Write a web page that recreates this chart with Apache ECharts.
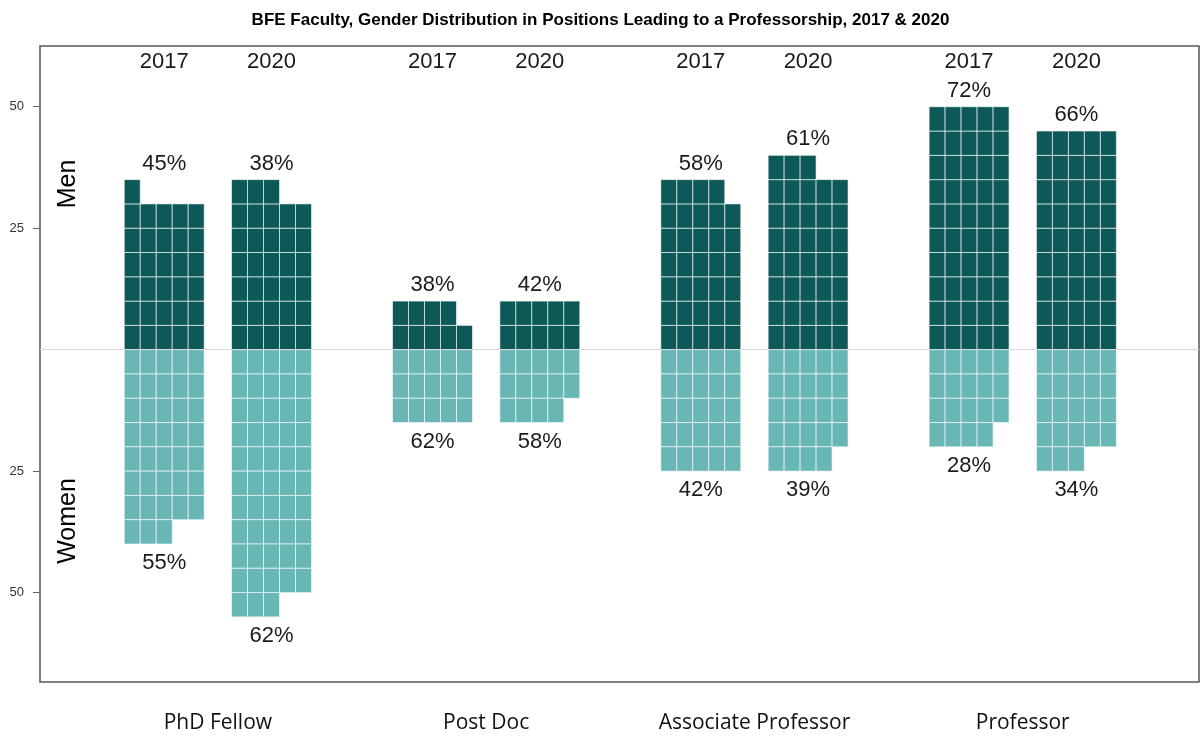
<!DOCTYPE html>
<html>
<head>
<meta charset="utf-8">
<title>BFE Faculty, Gender Distribution</title>
<script src="https://cdn.jsdelivr.net/npm/echarts@6.0.0/dist/echarts.min.js"></script>
<style>
    html, body { margin: 0; padding: 0; background: #fff; }
    #chart { width: 1201px; height: 736px; }
</style>
</head>
<body>
<div id="chart"></div>
<script>
// 职位分组
var positions = ['PhD Fellow', 'Post Doc', 'Associate Professor', 'Professor'];
var years = ['2017', '2020'];

// 人数, 一格一人 (顺序: PhD 2017, PhD 2020, Post Doc 2017, ...)
var menCounts = [31, 33, 9, 10, 34, 38, 50, 45];
var womenCounts = [38, 53, 15, 14, 25, 24, 19, 23];

// 百分比标签
var menPct = ['45%', '38%', '38%', '42%', '58%', '61%', '72%', '66%'];
var womenPct = ['55%', '62%', '62%', '58%', '42%', '39%', '28%', '34%'];

// y轴刻度
var yTicks = [-50, -25, 25, 50];

(function () {
    var PER_ROW = 5;          // 每行格数
    var CELL_W = 0.298;       // 每格宽度 (x轴单位)
    var MEN_COLOR = '#0d5957';
    var WOMEN_COLOR = '#68b7b5';
    var FONT = '"Liberation Sans", Arial, Helvetica, sans-serif';

    //列中心位置
    function colCenter(i) {
        return Math.floor(i / 2) * 5 + (i % 2) * 2;
    }

    //生成格子数据
    function buildCells() {
        var data = [];
        for (var i = 0; i < menCounts.length; i++) {
            var cx = colCenter(i);
            for (var k = 0; k < menCounts[i]; k++) {
                data.push([cx, Math.floor(k / PER_ROW), k % PER_ROW, 1]);
            }
            for (k = 0; k < womenCounts[i]; k++) {
                data.push([cx, Math.floor(k / PER_ROW), k % PER_ROW, -1]);
            }
        }
        return data;
    }

    //百分比标签数据
    var labelTexts = [];
    function buildLabels() {
        var data = [];
        for (var i = 0; i < menCounts.length; i++) {
            var cx = colCenter(i);
            data.push([cx, Math.ceil(menCounts[i] / PER_ROW) * PER_ROW, 1]);
            labelTexts.push(menPct[i]);
            data.push([cx, -Math.ceil(womenCounts[i] / PER_ROW) * PER_ROW, -1]);
            labelTexts.push(womenPct[i]);
        }
        return data;
    }

    function renderCell(params, api) {
        var cx = api.value(0), row = api.value(1), col = api.value(2), sign = api.value(3);
        var x0 = cx - CELL_W * PER_ROW / 2 + col * CELL_W;
        var pA = api.coord([x0, sign * row * PER_ROW]);
        var pB = api.coord([x0 + CELL_W, sign * (row + 1) * PER_ROW]);
        return {
            type: 'rect',
            shape: {
                x: Math.min(pA[0], pB[0]),
                y: Math.min(pA[1], pB[1]),
                width: Math.abs(pB[0] - pA[0]),
                height: Math.abs(pB[1] - pA[1])
            },
            style: {
                fill: sign > 0 ? MEN_COLOR : WOMEN_COLOR,
                stroke: 'rgba(255,255,255,0.6)',
                lineWidth: 1
            }
        };
    }

    function renderLabel(params, api) {
        var sign = api.value(2);
        var p = api.coord([api.value(0), api.value(1)]);
        return {
            type: 'text',
            x: p[0],
            y: p[1] + (sign > 0 ? -16 : 19),
            style: {
                text: labelTexts[params.dataIndex],
                fill: '#1a1a1a',
                font: '22px ' + FONT,
                align: 'center',
                verticalAlign: 'middle'
            }
        };
    }

    var yearTicks = [], groupTicks = [];
    for (var i = 0; i < menCounts.length; i++) {
        yearTicks.push(colCenter(i));
    }
    for (var g = 0; g < positions.length; g++) {
        groupTicks.push(g * 5 + 1);
    }

    var option = {
        backgroundColor: '#fff',
        animation: false,
        title: {
            text: 'BFE Faculty, Gender Distribution in Positions Leading to a Professorship, 2017 & 2020',
            left: 'center',
            top: 7,
            textStyle: {fontFamily: FONT, fontSize: 17, fontWeight: 'bold', color: '#000'}
        },
        grid: {
            left: 40,
            right: 2,
            top: 46,
            bottom: 54,
            show: true,
            borderColor: '#555',
            borderWidth: 1.5
        },
        xAxis: [
            {
                type: 'value',
                min: -2.315,
                max: 19.285,
                axisLine: {show: false, onZero: false},
                axisTick: {show: false},
                splitLine: {show: false},
                axisLabel: {
                    customValues: groupTicks,
                    margin: 31,
                    fontFamily: '"Open Sans", Lato, sans-serif',
                    fontSize: 21,
                    color: '#111',
                    formatter: function (v) {
                        return positions[Math.round((v - 1) / 5)];
                    }
                }
            },
            {
                type: 'value',
                position: 'top',
                min: -2.315,
                max: 19.285,
                axisLine: {show: false, onZero: false},
                axisTick: {show: false},
                splitLine: {show: false},
                axisLabel: {
                    inside: true,
                    customValues: yearTicks,
                    margin: 5,
                    fontFamily: FONT,
                    fontSize: 22,
                    color: '#1a1a1a',
                    formatter: function (v) {
                        return years[Math.round(v) % 5 === 0 ? 0 : 1];
                    }
                }
            }
        ],
        yAxis: {
            type: 'value',
            min: -68.4,
            max: 62.5,
            axisLine: {show: false, onZero: false},
            splitLine: {show: false},
            axisTick: {
                show: true,
                customValues: yTicks,
                length: 7,
                lineStyle: {color: '#666'}
            },
            axisLabel: {
                customValues: yTicks,
                margin: 16,
                fontFamily: FONT,
                fontSize: 13,
                color: '#333',
                formatter: function (v) {
                    return Math.abs(v);
                }
            }
        },
        graphic: [
            {
                type: 'text', x: 68, y: 184, rotation: Math.PI / 2,
                style: {text: 'Men', font: '25px ' + FONT, fill: '#000', align: 'center', verticalAlign: 'middle'}
            },
            {
                type: 'text', x: 68, y: 521, rotation: Math.PI / 2,
                style: {text: 'Women', font: '25px ' + FONT, fill: '#000', align: 'center', verticalAlign: 'middle'}
            }
        ],
        series: [
            {
                name: 'cells',
                type: 'custom',
                renderItem: renderCell,
                data: buildCells(),
                markLine: {
                    silent: true,
                    symbol: 'none',
                    label: {show: false},
                    lineStyle: {color: '#d9d9d9', width: 1, type: 'solid'},
                    data: [{yAxis: 0}]
                }
            },
            {
                name: 'labels',
                type: 'custom',
                clip: false,
                renderItem: renderLabel,
                data: buildLabels()
            }
        ]
    };

    var myChart = echarts.init(document.getElementById('chart'));
    myChart.setOption(option);
})();
</script>
</body>
</html>
